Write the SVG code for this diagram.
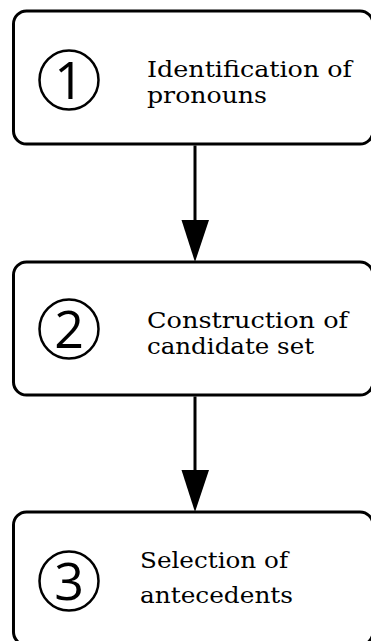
<svg xmlns="http://www.w3.org/2000/svg" width="371" height="641" viewBox="0 0 371 641">
<style>
.box{fill:#fff;stroke:#000;stroke-width:3}
.circ{fill:none;stroke:#000;stroke-width:2.5}
.num{font-family:"Open Sans","DejaVu Sans",sans-serif;font-size:52px;fill:#000;text-anchor:middle}
.lbl{font-family:"DejaVu Serif","Liberation Serif",serif;font-size:22px;fill:#000}
.conn line{stroke:#000;stroke-width:3}
.conn polygon{fill:#000}
</style>
<rect width="371" height="641" fill="#fff"/>
<g id="node1">
<rect class="box" x="13.5" y="11" width="359.5" height="133" rx="13"/>
<circle class="circ" cx="69" cy="80" r="29.5"/>
<text class="num" x="69" y="99">1</text>
<text class="lbl"><tspan x="147" y="77" textLength="205" lengthAdjust="spacingAndGlyphs">Identification of</tspan><tspan x="147" y="103" textLength="120" lengthAdjust="spacingAndGlyphs">pronouns</tspan></text>
</g>
<g id="node2">
<rect class="box" x="13.5" y="262" width="359.5" height="133" rx="13"/>
<circle class="circ" cx="69" cy="329" r="29.5"/>
<text class="num" x="69" y="348">2</text>
<text class="lbl"><tspan x="147" y="328" textLength="201" lengthAdjust="spacingAndGlyphs">Construction of</tspan><tspan x="147" y="354" textLength="167" lengthAdjust="spacingAndGlyphs">candidate set</tspan></text>
</g>
<g id="node3">
<rect class="box" x="13.5" y="512" width="359.5" height="133" rx="13"/>
<circle class="circ" cx="69" cy="581" r="29.5"/>
<text class="num" x="69" y="600">3</text>
<text class="lbl"><tspan x="140" y="568" textLength="148" lengthAdjust="spacingAndGlyphs">Selection of</tspan><tspan x="140" y="603" textLength="153" lengthAdjust="spacingAndGlyphs">antecedents</tspan></text>
</g>
<g id="connectors" class="conn">
<line x1="195" y1="145.5" x2="195" y2="221"/>
<polygon points="181.5,220 209,220 195,262"/>
<line x1="195" y1="396.5" x2="195" y2="471"/>
<polygon points="181.5,470 209,470 195,512"/>
</g>
</svg>
